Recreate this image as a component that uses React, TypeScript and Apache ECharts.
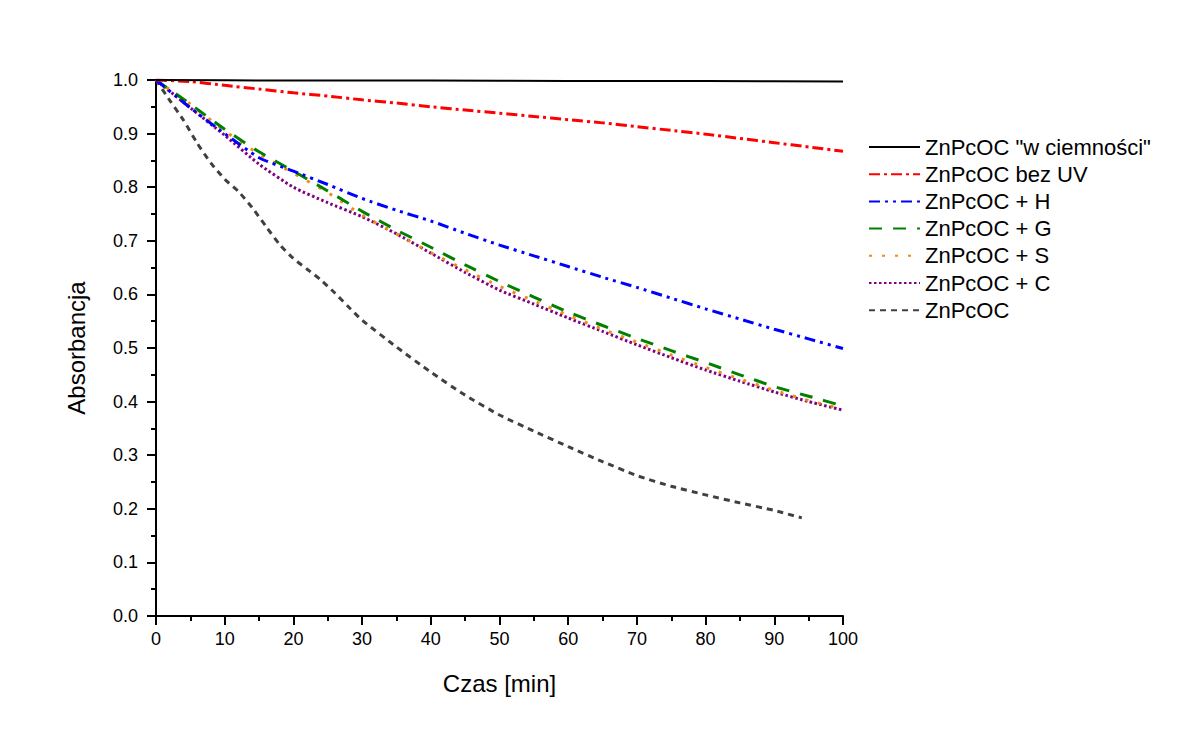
import React, { useEffect, useRef } from "react";
import * as echarts from "echarts";

// ---- data ----
const seriesNames = [
  'ZnPcOC "w ciemności"',
  "ZnPcOC bez UV",
  "ZnPcOC + H",
  "ZnPcOC + G",
  "ZnPcOC + S",
  "ZnPcOC + C",
  "ZnPcOC",
];

const timeDark = [0, 20, 40, 60, 80, 100];
const valDark = [1.0, 0.999, 0.999, 0.998, 0.998, 0.997];

const time5 = [0, 5, 10, 15, 20, 25, 30, 35, 40, 45, 50, 55, 60, 65, 70, 75, 80, 85, 90, 95, 100];
const valNoUV = [1.0, 0.997, 0.99, 0.983, 0.976, 0.97, 0.963, 0.957, 0.95, 0.944, 0.938, 0.932, 0.926, 0.92, 0.913, 0.906, 0.899, 0.891, 0.883, 0.875, 0.867];
const valH = [1.0, 0.948, 0.9, 0.855, 0.83, 0.805, 0.779, 0.757, 0.737, 0.714, 0.692, 0.672, 0.652, 0.632, 0.613, 0.593, 0.573, 0.554, 0.535, 0.517, 0.499];
const valG = [1.0, 0.955, 0.908, 0.866, 0.83, 0.793, 0.755, 0.72, 0.688, 0.655, 0.624, 0.595, 0.567, 0.542, 0.518, 0.495, 0.473, 0.45, 0.428, 0.41, 0.392];
const valS = [1.0, 0.955, 0.905, 0.862, 0.826, 0.79, 0.748, 0.713, 0.678, 0.646, 0.615, 0.588, 0.561, 0.535, 0.511, 0.487, 0.464, 0.442, 0.421, 0.402, 0.386];
const valC = [1.0, 0.948, 0.897, 0.843, 0.8, 0.771, 0.745, 0.713, 0.677, 0.641, 0.608, 0.582, 0.556, 0.531, 0.506, 0.482, 0.459, 0.438, 0.418, 0.4, 0.384];

const timePure = [0, 2, 4, 6, 8, 10, 12, 14, 16, 18, 20, 22, 24, 26, 28, 30, 35, 40, 45, 50, 55, 60, 65, 70, 75, 80, 85, 90, 94];
const valPure = [1.0, 0.962, 0.925, 0.882, 0.845, 0.815, 0.792, 0.762, 0.727, 0.693, 0.667, 0.647, 0.627, 0.603, 0.577, 0.552, 0.502, 0.455, 0.412, 0.375, 0.345, 0.316, 0.288, 0.262, 0.242, 0.226, 0.211, 0.197, 0.183];

const xTicks = { min: 0, max: 100, interval: 10 };
const yTicks = { min: 0, max: 1, interval: 0.1 };

const zip = (xs: number[], ys: number[]) => xs.map((x, i) => [x, ys[i]]);

const FONT = "'Liberation Sans', Arial, sans-serif";

export default function App() {
  const ref = useRef<HTMLDivElement>(null);

  useEffect(() => {
    document.body.style.margin = "0";
    const chart = echarts.init(ref.current!, null, { renderer: "svg" });

    const mk = (
      name: string,
      data: number[][],
      color: string,
      dash: number[] | "solid",
      width: number,
      z: number
    ) => ({
      name,
      type: "line",
      data,
      showSymbol: false,
      symbol: "none",
      smooth: 0.2,
      z,
      lineStyle: { color, width, type: dash, cap: "butt" },
      itemStyle: { color },
    });

    const option = {
      animation: false,
      backgroundColor: "#ffffff",
      grid: { left: 156, right: 352, top: 80, bottom: 126 },
      legend: {
        orient: "vertical",
        left: 863,
        top: 131,
        itemWidth: 51,
        itemHeight: 14,
        itemGap: 5.2,
        data: seriesNames,
        itemStyle: { opacity: 0 },
        textStyle: { fontFamily: FONT, fontSize: 22, color: "#000", lineHeight: 22 },
      },
      xAxis: {
        type: "value",
        min: xTicks.min,
        max: xTicks.max,
        interval: xTicks.interval,
        name: "Czas [min]",
        nameLocation: "middle",
        nameGap: 55,
        nameTextStyle: { fontFamily: FONT, fontSize: 24, color: "#000" },
        axisLine: { show: true, onZero: false, lineStyle: { color: "#000", width: 2 } },
        axisTick: { show: true, inside: false, length: 9, lineStyle: { color: "#000", width: 2 } },
        minorTick: { show: true, splitNumber: 2, length: 5, lineStyle: { color: "#000", width: 2 } },
        splitLine: { show: false },
        axisLabel: { fontFamily: FONT, fontSize: 18, color: "#000", margin: 14 },
      },
      yAxis: {
        type: "value",
        min: yTicks.min,
        max: yTicks.max,
        interval: yTicks.interval,
        name: "Absorbancja",
        nameLocation: "middle",
        nameGap: 68,
        nameTextStyle: { fontFamily: FONT, fontSize: 24, color: "#000" },
        axisLine: { show: true, onZero: false, lineStyle: { color: "#000", width: 2 } },
        axisTick: { show: true, inside: false, length: 9, lineStyle: { color: "#000", width: 2 } },
        minorTick: { show: true, splitNumber: 2, length: 5, lineStyle: { color: "#000", width: 2 } },
        splitLine: { show: false },
        axisLabel: {
          fontFamily: FONT,
          fontSize: 18,
          color: "#000",
          margin: 18,
          formatter: (v: number) => v.toFixed(1),
        },
      },
      series: [
        mk(seriesNames[0], zip(timeDark, valDark), "#000000", "solid", 2, 10),
        mk(seriesNames[1], zip(time5, valNoUV), "#ff0000", [11, 4, 3, 4], 3, 9),
        mk(seriesNames[2], zip(time5, valH), "#0000ff", [11, 5, 3, 5, 3, 5], 3, 8),
        mk(seriesNames[3], zip(time5, valG), "#008000", [13, 11], 3, 7),
        mk(seriesNames[4], zip(time5, valS), "#f08c10", [3, 10], 3, 6),
        mk(seriesNames[5], zip(time5, valC), "#800080", [2.5, 2.5], 3, 5),
        mk(seriesNames[6], zip(timePure, valPure), "#404040", [6, 5], 3, 4),
      ],
    };

    chart.setOption(option as any);
    return () => chart.dispose();
  }, []);

  return (
    <div
      ref={ref}
      style={{ position: "absolute", left: 0, top: 0, width: 1195, height: 742, background: "#fff" }}
    />
  );
}
